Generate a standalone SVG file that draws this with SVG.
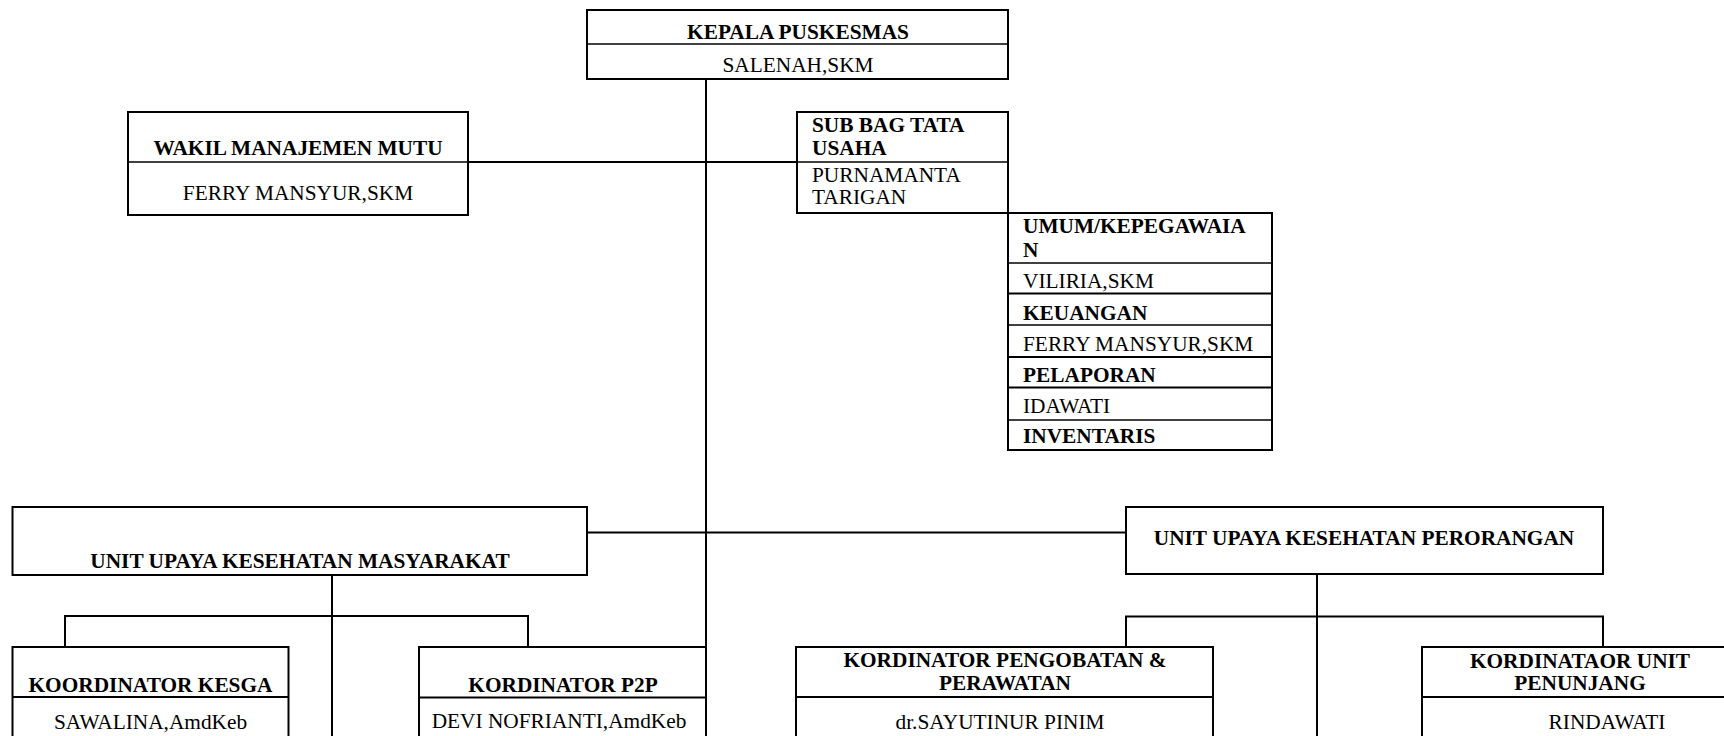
<svg xmlns="http://www.w3.org/2000/svg" width="1724" height="736" viewBox="0 0 1724 736">
<style>
  .box { fill: #ffffff; stroke: #000000; stroke-width: 2; }
  .div { stroke: #000000; stroke-width: 1.4; fill: none; }
  .divb { stroke: #000000; stroke-width: 2; fill: none; }
  .con { stroke: #000000; stroke-width: 2; fill: none; }
  text { font-family: "Liberation Serif", "Times New Roman", serif; font-size: 21.33px; fill: #000000; }
  .b { font-weight: bold; }
  .c { text-anchor: middle; }
</style>
<rect width="1724" height="736" fill="#ffffff"/>

<g id="connectors">
  <line class="con" x1="706" y1="79" x2="706" y2="736"/>
  <line class="con" x1="468" y1="162" x2="797" y2="162"/>
  <line class="con" x1="587" y1="532.5" x2="1126" y2="532.5"/>
  <line class="con" x1="332" y1="575" x2="332" y2="736"/>
  <polyline class="con" points="65,647 65,616 528,616 528,647"/>
  <line class="con" x1="1317" y1="574" x2="1317" y2="736"/>
  <polyline class="con" points="1126,647 1126,616.5 1603,616.5 1603,647"/>
</g>

<g id="kepala">
  <rect class="box" x="587" y="10" width="421" height="69"/>
  <line class="div" x1="587" y1="44" x2="1008" y2="44"/>
  <text class="b c" x="798" y="39">KEPALA PUSKESMAS</text>
  <text class="c" x="798" y="72">SALENAH,SKM</text>
</g>

<g id="wakil">
  <rect class="box" x="128" y="112" width="340" height="103"/>
  <line class="div" x1="128" y1="162" x2="468" y2="162"/>
  <text class="b c" x="298" y="155">WAKIL MANAJEMEN MUTU</text>
  <text class="c" x="298" y="200">FERRY MANSYUR,SKM</text>
</g>

<g id="subbag">
  <rect class="box" x="797" y="112" width="211" height="101"/>
  <line class="div" x1="797" y1="162" x2="1008" y2="162"/>
  <text class="b" x="812" y="132">SUB BAG TATA</text>
  <text class="b" x="812" y="155">USAHA</text>
  <text x="812" y="182">PURNAMANTA</text>
  <text x="812" y="204">TARIGAN</text>
</g>

<g id="umum">
  <rect class="box" x="1008" y="213" width="264" height="237"/>
  <line class="div" x1="1008" y1="263" x2="1272" y2="263"/>
  <line class="divb" x1="1008" y1="293.5" x2="1272" y2="293.5"/>
  <line class="div" x1="1008" y1="325" x2="1272" y2="325"/>
  <line class="divb" x1="1008" y1="357" x2="1272" y2="357"/>
  <line class="divb" x1="1008" y1="387.5" x2="1272" y2="387.5"/>
  <line class="div" x1="1008" y1="420" x2="1272" y2="420"/>
  <text class="b" x="1023" y="233">UMUM/KEPEGAWAIA</text>
  <text class="b" x="1023" y="257">N</text>
  <text x="1023" y="288">VILIRIA,SKM</text>
  <text class="b" x="1023" y="320">KEUANGAN</text>
  <text x="1023" y="351">FERRY MANSYUR,SKM</text>
  <text class="b" x="1023" y="382">PELAPORAN</text>
  <text x="1023" y="413">IDAWATI</text>
  <text class="b" x="1023" y="443">INVENTARIS</text>
</g>

<g id="ukm">
  <rect class="box" x="12.5" y="507" width="574.5" height="68"/>
  <text class="b c" x="300" y="568">UNIT UPAYA KESEHATAN MASYARAKAT</text>
</g>

<g id="ukp">
  <rect class="box" x="1126" y="507" width="477" height="67"/>
  <text class="b c" x="1364" y="545">UNIT UPAYA KESEHATAN PERORANGAN</text>
</g>

<g id="kesga">
  <rect class="box" x="12.5" y="647" width="276" height="120"/>
  <line class="divb" x1="12.5" y1="697" x2="288.5" y2="697"/>
  <text class="b c" x="150.5" y="691.5">KOORDINATOR KESGA</text>
  <text class="c" x="150.5" y="729">SAWALINA,AmdKeb</text>
</g>

<g id="p2p">
  <rect class="box" x="419" y="647" width="287" height="120"/>
  <line class="divb" x1="419" y1="697.5" x2="706" y2="697.5"/>
  <text class="b c" x="563" y="691.5">KORDINATOR P2P</text>
  <text class="c" x="559" y="728">DEVI NOFRIANTI,AmdKeb</text>
</g>

<g id="pengobatan">
  <rect class="box" x="796" y="647" width="417" height="120"/>
  <line class="divb" x1="796" y1="697" x2="1213" y2="697"/>
  <text class="b c" x="1005" y="667">KORDINATOR PENGOBATAN &amp;</text>
  <text class="b c" x="1005" y="690">PERAWATAN</text>
  <text class="c" x="1000" y="729">dr.SAYUTINUR PINIM</text>
</g>

<g id="penunjang">
  <rect class="box" x="1422" y="647" width="320" height="120"/>
  <line class="divb" x1="1422" y1="697" x2="1742" y2="697"/>
  <text class="b c" x="1580" y="668">KORDINATAOR UNIT</text>
  <text class="b c" x="1580" y="690">PENUNJANG</text>
  <text class="c" x="1607" y="729">RINDAWATI</text>
</g>
</svg>
